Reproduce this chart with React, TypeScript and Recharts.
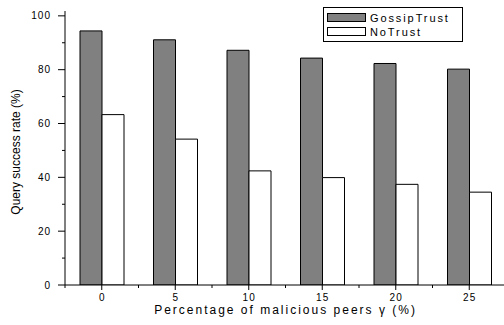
import React from 'react';
import { BarChart, Bar, XAxis, YAxis, Legend } from 'recharts';

const gammaLevels = [0, 5, 10, 15, 20, 25];
const gossipTrustRate = [94.4, 91.1, 87.2, 84.3, 82.3, 80.2];
const noTrustRate = [63.3, 54.2, 42.4, 39.9, 37.4, 34.5];

// y ticks: labelled every 20, small unlabelled ones in between
const yTicks = [0, 10, 20, 30, 40, 50, 60, 70, 80, 90, 100];
const yLabelled = [0, 20, 40, 60, 80, 100];

const font = 'Arial, "Liberation Sans", sans-serif';

const chartData = gammaLevels.map((g, i) => ({
  gamma: g,
  gossip: gossipTrustRate[i],
  noTrust: noTrustRate[i],
}));

const YTick = (props: any) => {
  const { x, y, payload } = props;
  const major = yLabelled.includes(payload.value);
  return (
    <g>
      <line x1={x - (major ? 7 : 3)} x2={x} y1={y} y2={y} stroke="#000" strokeWidth={1} />
      {major && (
        <text x={x - 14} y={y} dy="0.35em" textAnchor="end" fontSize={10} letterSpacing={1}
          fontFamily={font} fill="#000">
          {payload.value}
        </text>
      )}
    </g>
  );
};

// long tick at the band centre, short ticks on the band edges
const XTick = (props: any) => {
  const { x, y, payload } = props;
  const half = payload.offset || 0;
  const last = payload.index === gammaLevels.length - 1;
  return (
    <g>
      <line x1={x} x2={x} y1={y} y2={y + 5} stroke="#000" strokeWidth={1} />
      <line x1={x - half} x2={x - half} y1={y} y2={y + 3} stroke="#000" strokeWidth={1} />
      {last && <line x1={x + half} x2={x + half} y1={y} y2={y + 3} stroke="#000" strokeWidth={1} />}
      <text x={x + 0.6} y={y + 16} textAnchor="middle" fontSize={10} letterSpacing={1.2}
        fontFamily={font} fill="#000">
        {payload.value}
      </text>
    </g>
  );
};

const YTitle = (props: any) => {
  const { viewBox } = props;
  const cx = viewBox.x + 19.5;
  const cy = viewBox.y + viewBox.height / 2 + 4;
  return (
    <text x={cx} y={cy} transform={`rotate(-90 ${cx} ${cy})`} textAnchor="middle"
      fontSize={12} fontFamily={font} fill="#000">
      Query success rate (%)
    </text>
  );
};

const LegendBox = (props: any) => {
  const { payload } = props;
  return (
    <div style={{ width: 140, height: 35, boxSizing: 'border-box', border: '1px solid #000',
      background: '#fff', paddingTop: 2.5, paddingLeft: 3 }}>
      {payload.map((entry: any) => (
        <div key={entry.value} style={{ height: 14, display: 'flex', alignItems: 'center' }}>
          <span style={{ width: 39, height: 9, boxSizing: 'border-box', border: '1px solid #000',
            background: entry.payload.fill, display: 'inline-block' }} />
          <span style={{ marginLeft: 4, fontSize: 11, letterSpacing: 1.9, fontFamily: font,
            color: '#000', lineHeight: '14px' }}>
            {entry.value}
          </span>
        </div>
      ))}
    </div>
  );
};

export default function App() {
  return (
    <div style={{ position: 'absolute', left: 0, top: 0, width: 504, height: 325,
      overflow: 'hidden', background: '#fff' }}>
      <BarChart width={510} height={325} data={chartData} barGap={0}
        margin={{ top: 11, right: 4, bottom: 0, left: 0 }}>
        <XAxis dataKey="gamma" type="category" interval={0} height={40} tickSize={0}
          tickMargin={0} tickLine={false} tick={<XTick />}
          axisLine={{ stroke: '#000', strokeWidth: 1 }}
          label={{ value: 'Percentage of malicious peers γ (%)', position: 'insideBottom',
            offset: 11, fontSize: 12, letterSpacing: 2, fontFamily: font, fill: '#000' }} />
        <YAxis domain={[0, 101.8]} ticks={yTicks} interval={0} allowDataOverflow width={65}
          tickSize={0} tickMargin={0} tickLine={false} tick={<YTick />}
          axisLine={{ stroke: '#000', strokeWidth: 1 }} label={<YTitle />} />
        <Legend layout="horizontal" verticalAlign="middle" align="center"
          wrapperStyle={{ top: 7, left: 323, width: 140, height: 35 }} content={<LegendBox />} />
        <Bar dataKey="gossip" name="GossipTrust" fill="#808080" stroke="#000"
          strokeWidth={1} barSize={22} isAnimationActive={false} />
        <Bar dataKey="noTrust" name="NoTrust" fill="#fff" stroke="#000"
          strokeWidth={1} barSize={22} isAnimationActive={false} />
      </BarChart>
    </div>
  );
}
